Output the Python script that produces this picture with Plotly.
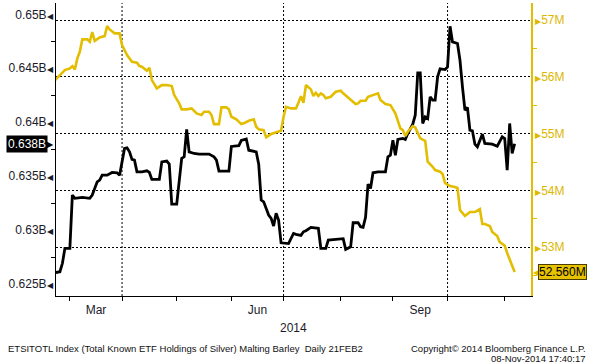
import plotly.graph_objects as go

# ---------------- data ----------------
black_dates = [
    "2014-02-21", "2014-02-25", "2014-02-26", "2014-02-27", "2014-02-28", "2014-03-03",
    "2014-03-04", "2014-03-05", "2014-03-10", "2014-03-13", "2014-03-14", "2014-03-18",
    "2014-03-19", "2014-03-20", "2014-03-24", "2014-03-26", "2014-03-28", "2014-03-31",
    "2014-04-02", "2014-04-03", "2014-04-04", "2014-04-07", "2014-04-08", "2014-04-09",
    "2014-04-11", "2014-04-15", "2014-04-16", "2014-04-17", "2014-04-22", "2014-04-23",
    "2014-04-25", "2014-04-28", "2014-04-29", "2014-05-01", "2014-05-05", "2014-05-06",
    "2014-05-07", "2014-05-08", "2014-05-12", "2014-05-14", "2014-05-20", "2014-05-22",
    "2014-05-23", "2014-05-26", "2014-05-30", "2014-06-02", "2014-06-05", "2014-06-06",
    "2014-06-10", "2014-06-11", "2014-06-16", "2014-06-17", "2014-06-18", "2014-06-19",
    "2014-06-23", "2014-06-24", "2014-06-25", "2014-06-26", "2014-06-27", "2014-06-30",
    "2014-07-03", "2014-07-07", "2014-07-08", "2014-07-10", "2014-07-11", "2014-07-14",
    "2014-07-16", "2014-07-21", "2014-07-22", "2014-07-24", "2014-07-25", "2014-07-30",
    "2014-08-01", "2014-08-04", "2014-08-05", "2014-08-07", "2014-08-08", "2014-08-12",
    "2014-08-13", "2014-08-14", "2014-08-15", "2014-08-18", "2014-08-19", "2014-08-20",
    "2014-08-22", "2014-08-27", "2014-08-28", "2014-08-29", "2014-09-01", "2014-09-02",
    "2014-09-03", "2014-09-05", "2014-09-08", "2014-09-09", "2014-09-11", "2014-09-12",
    "2014-09-15", "2014-09-16", "2014-09-17", "2014-09-18", "2014-09-19", "2014-09-22",
    "2014-09-23", "2014-09-24", "2014-09-25", "2014-09-26", "2014-09-30", "2014-10-01",
    "2014-10-02", "2014-10-03", "2014-10-07", "2014-10-08", "2014-10-09", "2014-10-10",
    "2014-10-13", "2014-10-14", "2014-10-15", "2014-10-16", "2014-10-17", "2014-10-21",
    "2014-10-22", "2014-10-27", "2014-10-29", "2014-10-31", "2014-11-03", "2014-11-04",
    "2014-11-05", "2014-11-06", "2014-11-07",
]
black_values = [
    0.62605, 0.62614, 0.62692, 0.62831, 0.62831, 0.62831,
    0.63324, 0.63294, 0.63303, 0.63294, 0.63324, 0.63447,
    0.63463, 0.63509, 0.63509, 0.63534, 0.63531, 0.63509,
    0.63757, 0.63762, 0.63725, 0.63655, 0.63648, 0.63540,
    0.63540, 0.63549, 0.63534, 0.63469, 0.63469, 0.63632,
    0.63639, 0.63611, 0.63241, 0.63241, 0.63664, 0.63679,
    0.63933, 0.63725, 0.63710, 0.63704, 0.63704, 0.63679,
    0.63648, 0.63546, 0.63546, 0.63775, 0.63782, 0.63830,
    0.63844, 0.63740, 0.63725, 0.63611, 0.63278, 0.63262,
    0.63139, 0.63108, 0.63037, 0.63155, 0.63093, 0.62882,
    0.62875, 0.62969, 0.62960, 0.62951, 0.62984, 0.62994,
    0.63025, 0.63016, 0.62831, 0.62831, 0.62907, 0.62914,
    0.62923, 0.62920, 0.62821, 0.62845, 0.63068, 0.63068,
    0.63031, 0.63025, 0.63118, 0.63426, 0.63386, 0.63531,
    0.63540, 0.63540, 0.63679, 0.63694, 0.63833, 0.63694,
    0.63840, 0.63849, 0.63840, 0.63895, 0.63982, 0.64065,
    0.64457, 0.64457, 0.63988, 0.64049, 0.64034, 0.64234,
    0.64204, 0.64204, 0.64420, 0.64494, 0.64488, 0.64512,
    0.64889, 0.64744, 0.64729, 0.64574, 0.64327, 0.64111,
    0.64136, 0.63926, 0.63920, 0.63796, 0.63771, 0.63889,
    0.63803, 0.63796, 0.63777, 0.63864, 0.63849, 0.63556,
    0.63988, 0.63710, 0.63800,
]

yellow_dates = [
    "2014-02-21", "2014-02-25", "2014-02-27", "2014-03-03", "2014-03-04", "2014-03-05",
    "2014-03-06", "2014-03-07", "2014-03-10", "2014-03-12", "2014-03-13", "2014-03-14",
    "2014-03-17", "2014-03-19", "2014-03-21", "2014-03-24", "2014-03-25", "2014-03-27",
    "2014-03-31", "2014-04-01", "2014-04-02", "2014-04-03", "2014-04-07", "2014-04-09",
    "2014-04-10", "2014-04-11", "2014-04-15", "2014-04-16", "2014-04-17", "2014-04-21",
    "2014-04-23", "2014-04-25", "2014-04-29", "2014-04-30", "2014-05-02", "2014-05-05",
    "2014-05-07", "2014-05-09", "2014-05-13", "2014-05-15", "2014-05-16", "2014-05-20",
    "2014-05-21", "2014-05-22", "2014-05-26", "2014-05-27", "2014-05-29", "2014-05-30",
    "2014-06-02", "2014-06-04", "2014-06-06", "2014-06-09", "2014-06-11", "2014-06-13",
    "2014-06-16", "2014-06-17", "2014-06-19", "2014-06-20", "2014-06-24", "2014-06-26",
    "2014-06-30", "2014-07-01", "2014-07-02", "2014-07-04", "2014-07-08", "2014-07-09",
    "2014-07-10", "2014-07-11", "2014-07-14", "2014-07-16", "2014-07-17", "2014-07-18",
    "2014-07-21", "2014-07-22", "2014-07-23", "2014-07-24", "2014-07-28", "2014-07-30",
    "2014-08-01", "2014-08-04", "2014-08-07", "2014-08-11", "2014-08-12", "2014-08-13",
    "2014-08-15", "2014-08-18", "2014-08-22", "2014-08-25", "2014-08-27", "2014-08-29",
    "2014-09-02", "2014-09-04", "2014-09-05", "2014-09-08", "2014-09-09", "2014-09-11",
    "2014-09-12", "2014-09-16", "2014-09-18", "2014-09-19", "2014-09-23", "2014-09-24",
    "2014-09-26", "2014-09-29", "2014-09-30", "2014-10-02", "2014-10-06", "2014-10-07",
    "2014-10-08", "2014-10-10", "2014-10-14", "2014-10-16", "2014-10-20", "2014-10-21",
    "2014-10-22", "2014-10-24", "2014-10-27", "2014-10-29", "2014-10-30", "2014-11-03",
    "2014-11-04", "2014-11-05", "2014-11-06", "2014-11-07",
]
yellow_values = [
    55.945, 56.034, 56.122, 56.152, 56.192, 56.134,
    56.328, 56.444, 56.663, 56.663, 56.621, 56.792,
    56.638, 56.698, 56.721, 56.898, 56.839, 56.769,
    56.769, 56.563, 56.487, 56.386, 56.268, 56.250,
    56.192, 56.180, 56.109, 56.162, 55.945, 55.799,
    55.857, 55.857, 55.840, 55.681, 55.534, 55.429,
    55.429, 55.446, 55.358, 55.328, 55.386, 55.386,
    55.328, 55.169, 55.169, 55.464, 55.464, 55.429,
    55.298, 55.252, 55.169, 55.182, 55.228, 55.252,
    55.122, 55.076, 55.063, 54.935, 54.993, 55.016,
    55.051, 55.298, 55.474, 55.446, 55.446, 55.545,
    55.663, 55.545, 55.857, 55.781, 55.663, 55.721,
    55.663, 55.711, 55.681, 55.623, 55.651, 55.739,
    55.757, 55.711, 55.605, 55.522, 55.534, 55.580,
    55.580, 55.651, 55.711, 55.593, 55.522, 55.504,
    55.358, 55.094, 55.063, 54.958, 55.034, 55.134,
    55.111, 54.917, 54.875, 54.504, 54.416, 54.358,
    54.328, 54.287, 54.129, 54.076, 54.058, 54.041,
    53.653, 53.547, 53.617, 53.617, 53.670, 53.406,
    53.406, 53.370, 53.265, 53.194, 53.088, 53.026,
    52.894, 52.788, 52.665, 52.560,
]

left_ticks = [0.625, 0.63, 0.635, 0.64, 0.645, 0.65]
left_tick_labels = ["0.625B", "0.63B", "0.635B", "0.64B", "0.645B", "0.65B"]
left_minor_ticks = [0.6275, 0.6325, 0.6375, 0.6425, 0.6475]
right_ticks = [53, 54, 55, 56, 57]
right_tick_labels = ["53M", "54M", "55M", "56M", "57M"]
right_minor_ticks = [52.5, 53.5, 54.5, 55.5, 56.5]
month_starts = ["2014-03-03", "2014-04-01", "2014-05-01", "2014-06-02", "2014-07-01",
                "2014-08-01", "2014-09-01", "2014-10-01", "2014-11-03"]
month_label_dates = ["2014-03-17 12:00", "2014-06-16 12:00", "2014-09-16"]
month_labels = ["Mar", "Jun", "Sep"]
quarter_starts = ["2014-04-01", "2014-07-01", "2014-10-01"]
last_black_label = "0.638B"
last_yellow_label = "52.560M"

# ---------------- styles ----------------
FONT = "Liberation Sans, Arial, sans-serif"
BLACK = "#000000"
YELLOW = "#E3BE00"
YELLOW_TXT = "#DDB800"
TXT = "#1a1a2a"

fig = go.Figure()
fig.add_trace(go.Scatter(x=yellow_dates, y=yellow_values, mode="lines", yaxis="y2",
                         line=dict(color=YELLOW, width=2.6), hoverinfo="skip",
                         showlegend=False))
fig.add_trace(go.Scatter(x=black_dates, y=black_values, mode="lines", yaxis="y",
                         line=dict(color=BLACK, width=2.8), hoverinfo="skip",
                         showlegend=False))

tri_l = "<span style='font-size:8px'>\u25C0</span>"
tri_r = "<span style='font-size:8px'>\u25B6</span>"

shapes = [dict(type="line", xref="x", yref="paper", x0=d, x1=d, y0=0, y1=1,
               line=dict(color="black", width=1, dash="2px,2px"), layer="below")
          for d in quarter_starts]

annotations = [
    dict(text="2014", xref="paper", yref="paper", x=0.5, y=0, yanchor="middle",
         yshift=-32, showarrow=False, font=dict(family=FONT, size=12, color=TXT)),
    dict(text="ETSITOTL Index (Total Known ETF Holdings of Silver) Malting Barley  Daily 21FEB2",
         xref="paper", yref="paper", x=0, y=0, xanchor="left", yanchor="middle",
         xshift=-50, yshift=-52, showarrow=False,
         font=dict(family=FONT, size=9.5, color="#111")),
    dict(text="Copyright\u00a9 2014 Bloomberg Finance L.P.", xref="paper", yref="paper",
         x=1, y=0, xanchor="right", yanchor="middle", xshift=57, yshift=-52,
         showarrow=False, font=dict(family=FONT, size=9.5, color="#111")),
    dict(text="08-Nov-2014 17:40:17", xref="paper", yref="paper",
         x=1, y=0, xanchor="right", yanchor="middle", xshift=57, yshift=-62,
         showarrow=False, font=dict(family=FONT, size=9.5, color="#111")),
    # last value labels
    dict(text="\u25B6", xref="paper", yref="y", x=0, y=black_values[-1], xanchor="right",
         yanchor="middle", xshift=0, showarrow=False,
         font=dict(family="DejaVu Sans", size=12, color="black")),
    dict(text=last_black_label, xref="paper", yref="y", x=0, y=black_values[-1],
         xanchor="right", yanchor="middle", xshift=-8, showarrow=False,
         bgcolor="black", borderpad=1, font=dict(family=FONT, size=12, color="white")),
    dict(text="\u25C0", xref="paper", yref="y2", x=1, y=yellow_values[-1], xanchor="left",
         yanchor="middle", xshift=0, showarrow=False,
         font=dict(family="DejaVu Sans", size=12, color=YELLOW)),
    dict(text=last_yellow_label, xref="paper", yref="y2", x=1, y=yellow_values[-1],
         xanchor="left", yanchor="middle", xshift=7, showarrow=False,
         bgcolor="#E6C200", bordercolor="#4a3f00", borderwidth=1, borderpad=0,
         font=dict(family=FONT, size=12, color="black")),
]

fig.update_layout(
    width=591, height=363, autosize=False,
    margin=dict(l=56, r=60, t=3, b=67, pad=0),
    paper_bgcolor="white", plot_bgcolor="white",
    font=dict(family=FONT, size=12, color=TXT),
    showlegend=False,
    hovermode=False,
    shapes=shapes,
    annotations=annotations,
    xaxis=dict(
        type="date",
        range=["2014-02-21 10:00", "2014-11-17 14:00"],
        rangebreaks=[dict(bounds=["sat", "mon"])],
        tickmode="array", tickvals=month_label_dates, ticktext=month_labels,
        ticks="", showgrid=False, zeroline=False,
        showline=True, linecolor="black", linewidth=1,
        ticklabelstandoff=3,
        tickfont=dict(family=FONT, size=12, color=TXT),
        minor=dict(tickmode="array", tickvals=month_starts, ticks="outside",
                   ticklen=4, tickcolor="black", tickwidth=1, showgrid=False),
    ),
    yaxis=dict(
        range=[0.623888, 0.651047],
        tickmode="array", tickvals=left_ticks,
        ticktext=[t + tri_l for t in left_tick_labels],
        ticks="", showgrid=False, zeroline=False,
        showline=True, linecolor="black", linewidth=1,
        ticklabelstandoff=0,
        tickfont=dict(family=FONT, size=12, color=TXT),
        minor=dict(tickmode="array", tickvals=left_minor_ticks, ticks="outside",
                   ticklen=4, tickcolor="black", tickwidth=1, showgrid=False),
    ),
    yaxis2=dict(
        overlaying="y", side="right",
        range=[52.136, 57.305],
        tickmode="array", tickvals=right_ticks,
        ticktext=[tri_r + t for t in right_tick_labels],
        ticks="", zeroline=False,
        showgrid=True, gridcolor="black", gridwidth=1, griddash="2px,2px",
        showline=True, linecolor=YELLOW, linewidth=1.5,
        ticklabelstandoff=0,
        tickfont=dict(family=FONT, size=12, color=YELLOW_TXT),
        minor=dict(tickmode="array", tickvals=right_minor_ticks, ticks="outside",
                   ticklen=4, tickcolor=YELLOW, tickwidth=1, showgrid=False),
    ),
)

fig.write_html("out.html", config={"displayModeBar": False},
               post_script="document.body.style.margin='0px';")
